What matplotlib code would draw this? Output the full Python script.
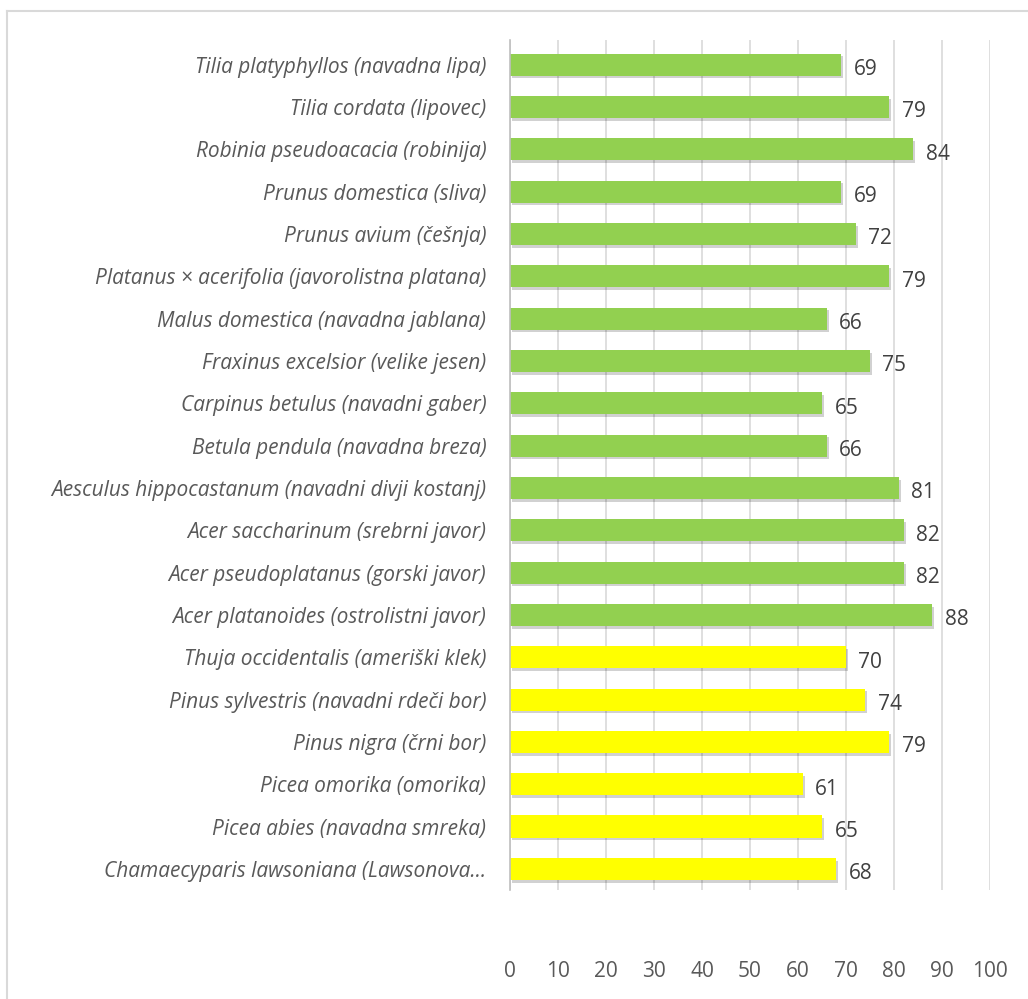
import matplotlib.pyplot as plt
import matplotlib.patheffects as pe
from matplotlib.lines import Line2D

# Tree species (top to bottom) and their scores
species = [
    "Tilia platyphyllos (navadna lipa)",
    "Tilia cordata (lipovec)",
    "Robinia pseudoacacia (robinija)",
    "Prunus domestica (sliva)",
    "Prunus avium (češnja)",
    "Platanus × acerifolia (javorolistna platana)",
    "Malus domestica (navadna jablana)",
    "Fraxinus excelsior (velike jesen)",
    "Carpinus betulus (navadni gaber)",
    "Betula pendula (navadna breza)",
    "Aesculus hippocastanum (navadni divji kostanj)",
    "Acer saccharinum (srebrni javor)",
    "Acer pseudoplatanus (gorski javor)",
    "Acer platanoides (ostrolistni javor)",
    "Thuja occidentalis (ameriški klek)",
    "Pinus sylvestris (navadni rdeči bor)",
    "Pinus nigra (črni bor)",
    "Picea omorika (omorika)",
    "Picea abies (navadna smreka)",
    "Chamaecyparis lawsoniana (Lawsonova...",
]
scores = [69, 79, 84, 69, 72, 79, 66, 75, 65, 66, 81, 82, 82, 88,
          70, 74, 79, 61, 65, 68]
conifer = [False] * 14 + [True] * 6

green = "#92D050"
yellow = "#FFFF00"
grid_c = "#D9D9D9"
text_c = "#595959"

plt.rcParams['font.family'] = ['Open Sans', 'DejaVu Sans']

fig = plt.figure(figsize=(10.28, 9.99), dpi=100)
ax = fig.add_axes([510 / 1028, 1 - 890 / 999, 480 / 1028, 850 / 999])

n = len(species)
ypos = list(range(n))[::-1]
colors = [yellow if c else green for c in conifer]

bars = ax.barh(ypos, scores, height=0.52, color=colors, zorder=3)
for b in bars:
    b.set_path_effects([pe.SimplePatchShadow(offset=(1.5, -2), shadow_rgbFace="#000000",
                                             alpha=0.18),
                        pe.Normal()])

for y, v in zip(ypos, scores):
    ax.text(v + 2.6, y - 0.12, str(v), va="center", ha="left",
            fontsize=15, color="#404040")

ax.set_xlim(0, 100)
ax.set_ylim(-0.5, n - 0.42)
ax.set_xticks(range(0, 101, 10))
ax.set_yticks(ypos)
ax.set_yticklabels(species, fontstyle="italic", fontsize=15, color=text_c)
ax.tick_params(axis="x", length=0, pad=51, labelsize=15, labelcolor=text_c)
ax.tick_params(axis="y", length=0, pad=17)

ax.grid(axis="x", color=grid_c, linewidth=1.2, zorder=0)
for s in ["top", "right", "bottom"]:
    ax.spines[s].set_visible(False)
ax.spines["left"].set_color("#BFBFBF")
ax.spines["left"].set_linewidth(1.2)
ax.spines["left"].set_zorder(4)

# chart border
fig.add_artist(Line2D([7 / 1028, 1.0], [1 - 11 / 999, 1 - 11 / 999],
                      transform=fig.transFigure, color=grid_c, linewidth=1.5))
fig.add_artist(Line2D([7 / 1028, 7 / 1028], [0.0, 1 - 11 / 999],
                      transform=fig.transFigure, color=grid_c, linewidth=1.5))

fig.savefig("out.png", dpi=100, facecolor="white")
